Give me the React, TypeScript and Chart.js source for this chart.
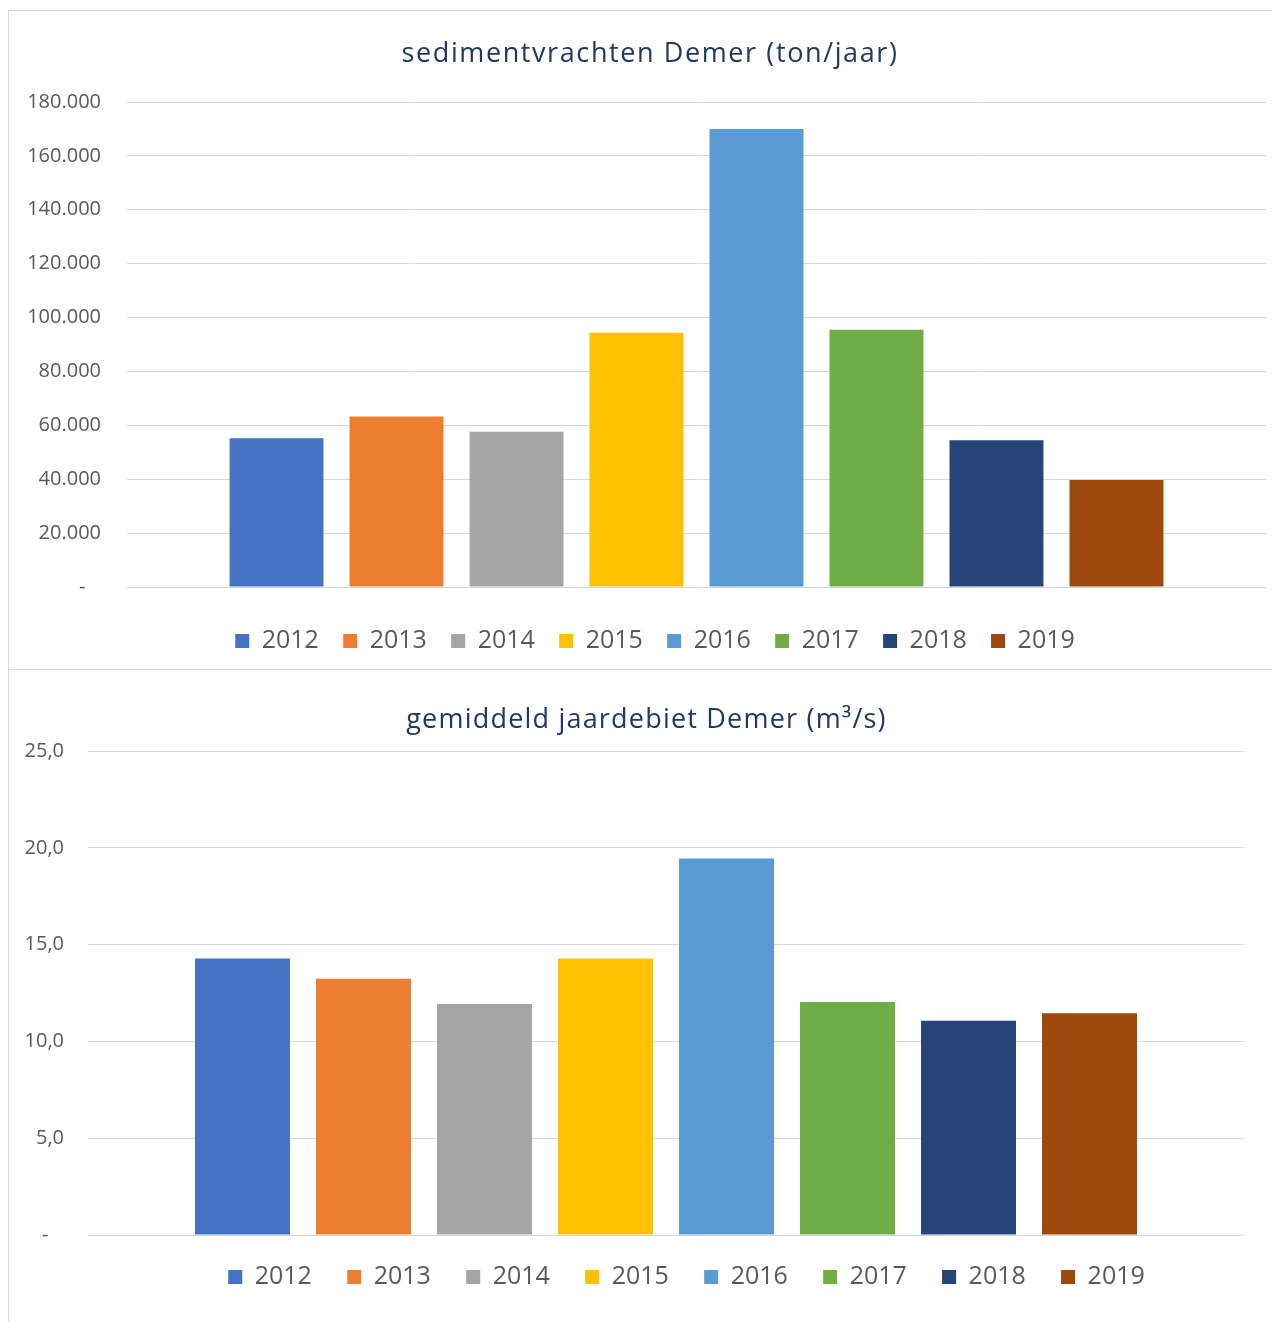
import React, { useEffect, useRef } from 'react';
import { Chart, registerables } from 'chart.js';

Chart.register(...registerables);

const YEARS = ['2012', '2013', '2014', '2015', '2016', '2017', '2018', '2019'];
const COLORS = ['#4472C4', '#ED7D31', '#A5A5A5', '#FFC000', '#5B9BD5', '#70AD47', '#264478', '#9E480E'];

const SEDIMENT_TITLE = 'sedimentvrachten Demer (ton/jaar)';
const SEDIMENT_VALUES = [55200, 63300, 57600, 94400, 170000, 95500, 54500, 39700];
const SEDIMENT_MAX = 180000;
const SEDIMENT_STEP = 20000;

const DEBIET_TITLE = 'gemiddeld jaardebiet Demer (m³/s)';
const DEBIET_VALUES = [14.28, 13.24, 11.93, 14.28, 19.45, 12.04, 11.07, 11.45];
const DEBIET_MAX = 25;
const DEBIET_STEP = 5;

const fmtThousands = (v: number) =>
  v === 0 ? '-   ' : String(Math.round(v)).replace(/\B(?=(\d{3})+(?!\d))/g, '.');
const fmtDecimal = (v: number) => (v === 0 ? '-   ' : v.toFixed(1).replace('.', ','));

const LEGEND_FONT = 25;

const posFix = {
  id: 'posFix',
  afterLayout(chart: any, _args: any, opts: any) {
    const lg = chart.legend;
    if (lg) {
      if (opts.legendCx != null) {
        const dx = opts.legendCx - (lg.left + lg.right) / 2;
        lg.left += dx;
        lg.right += dx;
      }
      if (opts.legendCy != null) {
        const pad = lg.options.labels.padding;
        const cur = lg.top + pad + LEGEND_FONT / 2;
        const dy = opts.legendCy - cur;
        lg.top += dy;
        lg.bottom += dy;
      }
    }
    const t = chart.titleBlock;
    if (t) {
      if (opts.titleCx != null) {
        const dx = opts.titleCx - (t.left + t.right) / 2;
        t.left += dx;
        t.right += dx;
      }
      if (opts.titleSpacing && !t.__spaced) {
        t.__spaced = true;
        const orig = t.draw;
        t.draw = function (...args: any[]) {
          const ctx: any = chart.ctx;
          const prev = ctx.letterSpacing;
          ctx.letterSpacing = opts.titleSpacing + 'px';
          orig.apply(t, args);
          ctx.letterSpacing = prev || '0px';
        };
      }
    }
  },
};

type Props = {
  title: string;
  values: number[];
  yMax: number;
  yStep: number;
  fmt: (v: number) => string;
  width: number;
  height: number;
  titlePad: { top: number; bottom: number };
  titleSpacing: number;
  padRight: number;
  padBottom: number;
  axisWidth: number;
  tickPad: number;
  xAxisHeight: number;
  legendPad: number;
  legendCx: number;
  legendCy: number;
  titleCx: number;
  catPct: number;
  barPct: number;
};

function BarChart(p: Props) {
  const ref = useRef<HTMLCanvasElement | null>(null);
  useEffect(() => {
    if (!ref.current) return;
    const chart = new Chart(ref.current, {
      type: 'bar',
      data: {
        labels: [''],
        datasets: YEARS.map((y, i) => ({
          label: y,
          data: [p.values[i]],
          backgroundColor: COLORS[i],
          borderWidth: 0,
          categoryPercentage: p.catPct,
          barPercentage: p.barPct,
        })),
      },
      plugins: [posFix],
      options: {
        animation: false,
        responsive: false,
        layout: { padding: { top: 0, left: 0, right: p.padRight, bottom: p.padBottom } },
        scales: {
          x: {
            display: true,
            grid: { display: false },
            border: { display: false },
            ticks: { display: false },
            afterFit: (s: any) => {
              s.height = p.xAxisHeight;
            },
          },
          y: {
            min: 0,
            max: p.yMax,
            grid: { color: '#D9D9D9', lineWidth: 1, drawTicks: false },
            border: { display: false },
            ticks: {
              stepSize: p.yStep,
              padding: p.tickPad,
              color: '#595959',
              font: { family: '"Open Sans", sans-serif', size: 20 },
              callback: (v: any) => p.fmt(Number(v)),
            },
            afterFit: (s: any) => {
              s.width = p.axisWidth;
            },
          },
        },
        plugins: {
          title: {
            display: true,
            text: p.title,
            color: '#1F3864',
            font: { family: '"Open Sans", sans-serif', size: 27, weight: 'normal', lineHeight: 1.2 },
            padding: p.titlePad,
          },
          legend: {
            display: true,
            position: 'bottom',
            labels: {
              boxWidth: 14,
              boxHeight: 14,
              padding: p.legendPad,
              color: '#595959',
              font: { family: '"Open Sans", sans-serif', size: LEGEND_FONT },
            },
          },
          tooltip: { enabled: false },
          posFix: {
            legendCx: p.legendCx,
            legendCy: p.legendCy,
            titleCx: p.titleCx,
            titleSpacing: p.titleSpacing,
          },
        } as any,
      },
    });
    return () => chart.destroy();
  }, []);
  return <canvas ref={ref} width={p.width} height={p.height} style={{ display: 'block' }} />;
}

export default function App() {
  const border = '1px solid #D9D9D9';
  return (
    <div style={{ paddingTop: 2, width: 1272, background: '#fff' }}>
      <div style={{ borderTop: border, borderLeft: border, borderBottom: border, width: 1271 }}>
        <BarChart
          title={SEDIMENT_TITLE}
          values={SEDIMENT_VALUES}
          yMax={SEDIMENT_MAX}
          yStep={SEDIMENT_STEP}
          fmt={fmtThousands}
          width={1271}
          height={658}
          titlePad={{ top: 27.4, bottom: 31.2 }}
          titleSpacing={1.6}
          padRight={14}
          padBottom={7.7}
          axisWidth={118}
          tickPad={26}
          xAxisHeight={15}
          legendPad={24.3}
          legendCx={646}
          legendCy={630}
          titleCx={641}
          catPct={0.8428}
          barPct={0.783}
        />
      </div>
      <div style={{ borderLeft: border, width: 1271 }}>
        <BarChart
          title={DEBIET_TITLE}
          values={DEBIET_VALUES}
          yMax={DEBIET_MAX}
          yStep={DEBIET_STEP}
          fmt={fmtDecimal}
          width={1271}
          height={652}
          titlePad={{ top: 34.3, bottom: 14.3 }}
          titleSpacing={1.2}
          padRight={36}
          padBottom={0}
          axisWidth={79}
          tickPad={24}
          xAxisHeight={16.7}
          legendPad={35.3}
          legendCx={677.5}
          legendCy={607}
          titleCx={637.5}
          catPct={0.8374}
          barPct={0.785}
        />
      </div>
    </div>
  );
}
